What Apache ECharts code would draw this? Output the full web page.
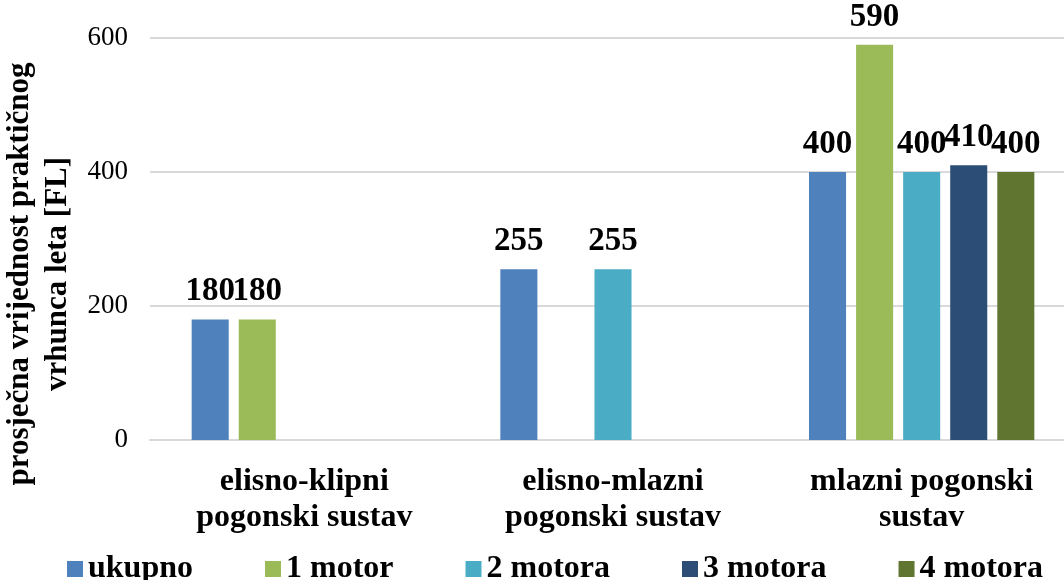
<!DOCTYPE html>
<html>
<head>
<meta charset="utf-8">
<script src="https://cdn.jsdelivr.net/npm/echarts@6/dist/echarts.min.js"></script>
<style>
  html, body { margin: 0; padding: 0; background: #fff; }
  #chart { width: 1064px; height: 580px; }
</style>
</head>
<body>
<div id="chart"></div>
<script>
var categories = ['elisno-klipni\npogonski sustav', 'elisno-mlazni\npogonski sustav', 'mlazni pogonski\nsustav']
var seriesNames = ['ukupno', '1 motor', '2 motora', '3 motora', '4 motora']
var ukupno = [180, 255, 400]
var motor1 = [180, null, 590]
var motora2 = [null, 255, 400]
var motora3 = [null, null, 410]
var motora4 = [null, null, 400]
var yTicks = [0, 200, 400, 600]
var colors = ['#4F81BD', '#9BBB59', '#4BACC6', '#2C4D75', '#5F7530']

var font = '"Liberation Serif", "Times New Roman", serif'
var allData = [ukupno, motor1, motora2, motora3, motora4]

var seriesData = seriesNames.map(function (name, i) {
  return {
    name: name,
    type: 'bar',
    data: allData[i],
    barGap: '27%',
    barCategoryGap: '27%',
    itemStyle: { color: colors[i] },
    label: {
      show: true,
      position: 'top',
      distance: 11,
      color: '#000',
      fontFamily: font,
      fontWeight: 'bold',
      fontSize: 33
    }
  }
})

var option = {
  animation: false,
  color: colors,
  grid: { left: 150, right: -12, top: 38, bottom: 140, containLabel: false, outerBoundsMode: 'none' },
  legend: {
    left: 62, top: 548,
    itemWidth: 16, itemHeight: 16, itemGap: 72,
    icon: 'rect',
    textStyle: { fontFamily: font, fontWeight: 'bold', fontSize: 32, color: '#000' },
    data: seriesNames
  },
  xAxis: {
    type: 'category',
    data: categories,
    axisLine: { show: true, lineStyle: { color: '#d9d9d9', width: 2 } },
    axisTick: { show: false },
    axisLabel: {
      margin: 24, color: '#000', fontFamily: font, fontWeight: 'bold',
      fontSize: 32, lineHeight: 36, interval: 0
    }
  },
  yAxis: {
    type: 'value',
    min: yTicks[0], max: yTicks[yTicks.length - 1], interval: 200,
    name: 'prosječna vrijednost praktičnog\nvrhunca leta [FL]',
    nameLocation: 'middle',
    nameGap: 66,
    nameTextStyle: {
      fontFamily: font, fontWeight: 'bold', fontSize: 31, color: '#000',
      lineHeight: 38, padding: [0, 70, 0, 0]
    },
    axisLine: { show: false },
    axisTick: { show: false },
    splitLine: { lineStyle: { color: '#d9d9d9', width: 2 } },
    axisLabel: { margin: 22, color: '#000', fontFamily: font, fontSize: 27 }
  },
  series: seriesData
}

var myChart = echarts.init(document.getElementById('chart'))
myChart.setOption(option)
</script>
</body>
</html>
